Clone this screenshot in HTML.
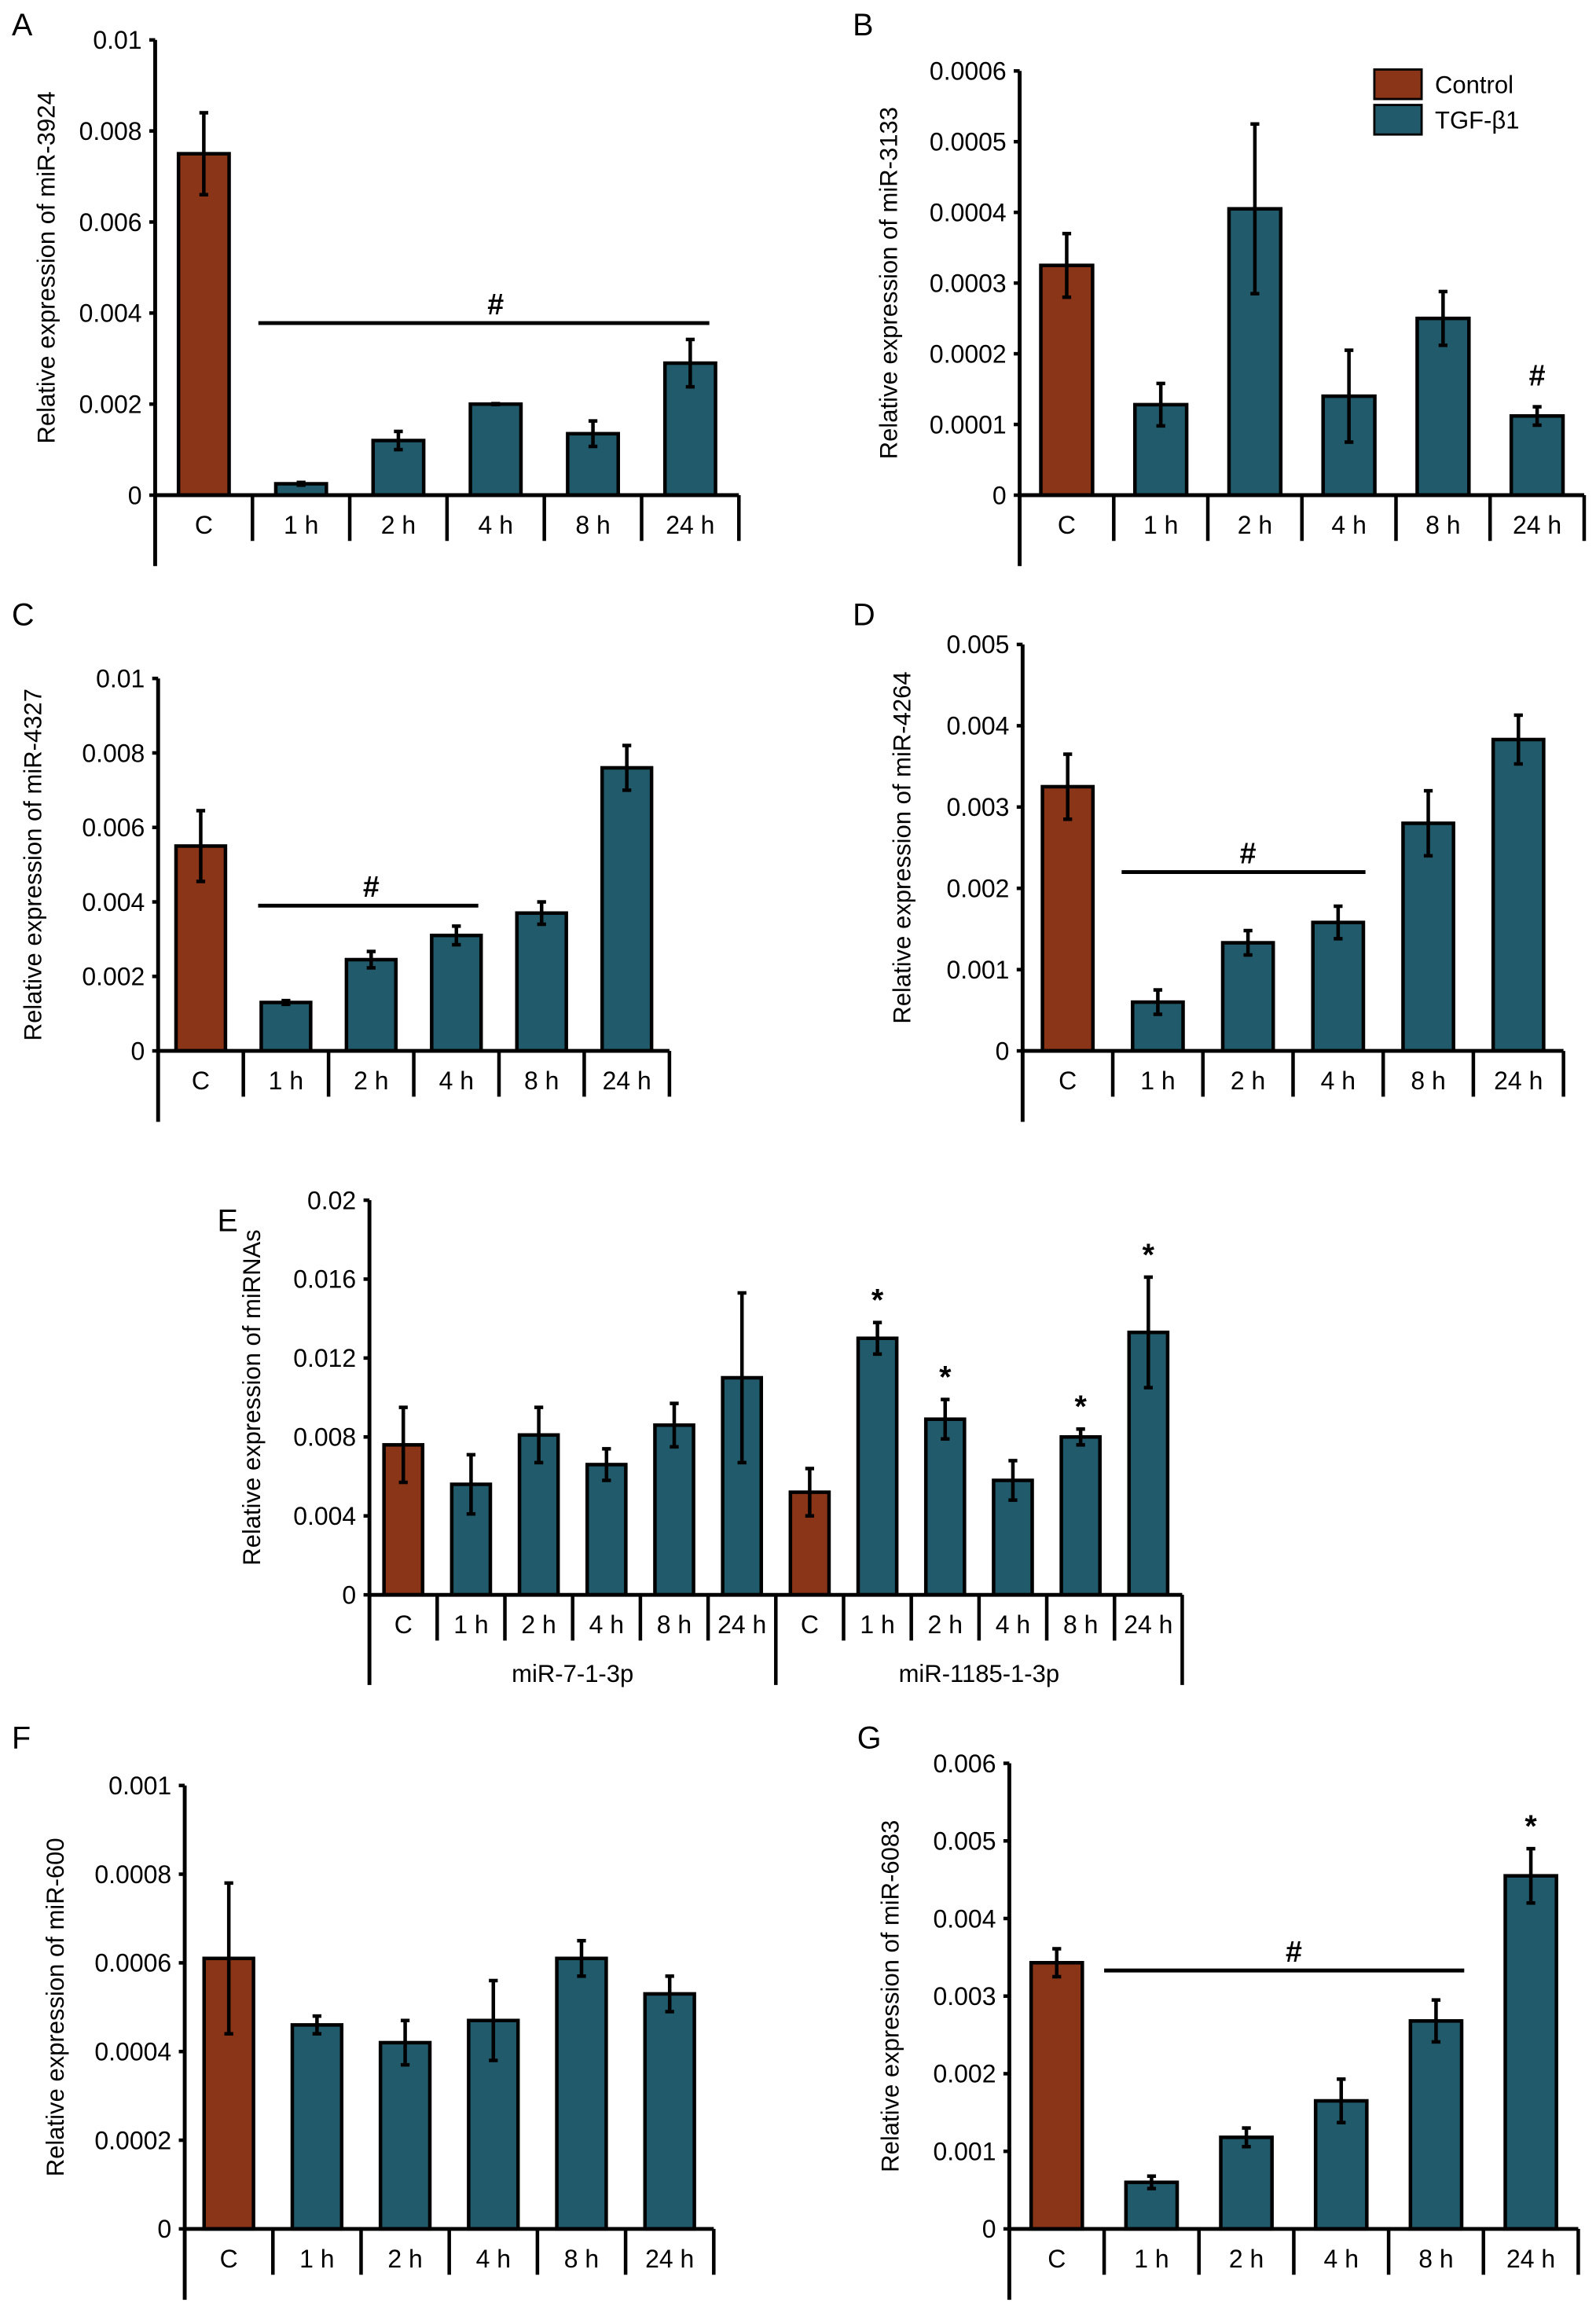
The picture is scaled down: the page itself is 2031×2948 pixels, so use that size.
<!DOCTYPE html>
<html><head><meta charset="utf-8">
<style>
html,body{margin:0;padding:0;background:#fff;}
svg{display:block;font-family:"Liberation Sans",sans-serif;}
</style></head>
<body>
<svg id="fig" width="2031" height="2948" viewBox="0 0 1080 1567.6" xmlns="http://www.w3.org/2000/svg"></svg>
<script>
const cats6 = ["C","1 h","2 h","4 h","8 h","24 h"];
// Panel A
const aVals = [0.0075,0.00025,0.0012,0.002,0.00135,0.0029];
const aErr  = [0.0009,0.00003,0.0002,0.00001,0.00028,0.00052];
const aTicks = [0,0.002,0.004,0.006,0.008,0.01];
const aTickLabels = ["0","0.002","0.004","0.006","0.008","0.01"];
// Panel B
const bVals = [0.000325,0.000128,0.000405,0.00014,0.00025,0.000112];
const bErr  = [0.000045,0.00003,0.00012,0.000065,0.000038,0.000013];
const bTicks = [0,0.0001,0.0002,0.0003,0.0004,0.0005,0.0006];
const bTickLabels = ["0","0.0001","0.0002","0.0003","0.0004","0.0005","0.0006"];
// Panel C
const cVals = [0.0055,0.0013,0.00245,0.0031,0.0037,0.0076];
const cErr  = [0.00095,0.00005,0.00022,0.00025,0.0003,0.0006];
const cTicks = [0,0.002,0.004,0.006,0.008,0.01];
const cTickLabels = ["0","0.002","0.004","0.006","0.008","0.01"];
// Panel D
const dVals = [0.00325,0.0006,0.00133,0.00158,0.0028,0.00383];
const dErr  = [0.0004,0.00015,0.00015,0.0002,0.0004,0.0003];
const dTicks = [0,0.001,0.002,0.003,0.004,0.005];
const dTickLabels = ["0","0.001","0.002","0.003","0.004","0.005"];
// Panel E
const eCats = ["C","1 h","2 h","4 h","8 h","24 h","C","1 h","2 h","4 h","8 h","24 h"];
const eVals = [0.0076,0.0056,0.0081,0.0066,0.0086,0.011,0.0052,0.013,0.0089,0.0058,0.008,0.0133];
const eErr  = [0.0019,0.0015,0.0014,0.0008,0.0011,0.0043,0.0012,0.0008,0.001,0.001,0.0004,0.0028];
const eStars = [0,0,0,0,0,0,0,1,1,0,1,1];
const eGroups = ["miR-7-1-3p","miR-1185-1-3p"];
const eTicks = [0,0.004,0.008,0.012,0.016,0.02];
const eTickLabels = ["0","0.004","0.008","0.012","0.016","0.02"];
// Panel F
const fVals = [0.00061,0.00046,0.00042,0.00047,0.00061,0.00053];
const fErr  = [0.00017,0.00002,0.00005,0.00009,0.00004,0.00004];
const fTicks = [0,0.0002,0.0004,0.0006,0.0008,0.001];
const fTickLabels = ["0","0.0002","0.0004","0.0006","0.0008","0.001"];
// Panel G
const gVals = [0.00343,0.0006,0.00118,0.00165,0.00268,0.00455];
const gErr  = [0.00018,0.00008,0.00012,0.00028,0.00027,0.00035];
const gStars = [0,0,0,0,0,1];
const gTicks = [0,0.001,0.002,0.003,0.004,0.005,0.006];
const gTickLabels = ["0","0.001","0.002","0.003","0.004","0.005","0.006"];

const NS="http://www.w3.org/2000/svg";
const svg=document.getElementById('fig');
const BROWN="#8a3518", TEAL="#215a6a";
function mk(tag,attrs,parent,text){
  const e=document.createElementNS(NS,tag);
  for(const k in attrs) e.setAttribute(k,attrs[k]);
  if(text!==undefined) e.textContent=text;
  (parent||svg).appendChild(e);
  return e;
}
function panel(o){
  const g=mk('g',{});
  
  
  const lt=mk('text',{x:o.letter[0],y:o.letter[1],'font-size':21},g,o.id.toUpperCase());
  
  
  const ymax=o.ticks[o.ticks.length-1];
  const yS=v=>o.y0-(v/ymax)*(o.y0-o.yTop);
  const n=o.cats.length, band=(o.x1-o.x0)/n;
  const xC=i=>o.x0+band*(i+0.5);
  o.ticks.forEach((t,i)=>{
    const y=yS(t);
    const tl=mk('text',{x:o.x0-9,y:y+6,'font-size':17,'text-anchor':'end'},g,o.tickLabels[i]);
    
    
    mk('line',{x1:o.x0-4,x2:o.x0,y1:y,y2:y,stroke:'#000','stroke-width':2.4},g);
  });
  const yt=mk('text',{x:0,y:0,'font-size':16.5,'text-anchor':'middle',transform:`translate(${o.titleX},${(o.yTop+o.y0)/2}) rotate(-90)`},g,o.title);
  
  
  o.vals.forEach((v,i)=>{
    const cx=xC(i), w=band*o.bw, y=yS(v);
    const ctrl=(o.cats[i]==="C");
    const r=mk('rect',{x:cx-w/2,y:y,width:w,height:o.y0-y,fill:ctrl?BROWN:TEAL,stroke:'#000','stroke-width':2.4},g);
    
    
    const e=o.err[i];
    mk('line',{x1:cx,x2:cx,y1:yS(v+e),y2:yS(Math.max(v-e,0)),stroke:'#000','stroke-width':2.4},g);
    mk('line',{x1:cx-3,x2:cx+3,y1:yS(v+e),y2:yS(v+e),stroke:'#000','stroke-width':2.4},g);
    mk('line',{x1:cx-3,x2:cx+3,y1:yS(v-e),y2:yS(v-e),stroke:'#000','stroke-width':2.4},g);
    if(o.stars && o.stars[i]){
      const s=mk('text',{x:cx,y:yS(v+e)-8,'font-size':21,'font-weight':'bold','text-anchor':'middle'},g,'*');
      
      
    }
    const cl=mk('text',{x:xC(i),y:o.y0+26,'font-size':17,'text-anchor':'middle'},g,o.cats[i]);
    
    
  });
  mk('line',{x1:o.x0,x2:o.x0,y1:o.yTop,y2:o.y0+(o.group?61:48),stroke:'#000','stroke-width':2.6},g);
  mk('line',{x1:o.x0,x2:o.x1,y1:o.y0,y2:o.y0,stroke:'#000','stroke-width':2.6},g);
  for(let i=1;i<=n;i++){
    const x=o.x0+band*i;
    const long=o.group && (i===n/2 || i===n);
    mk('line',{x1:x,x2:x,y1:o.y0,y2:o.y0+(long?61:31),stroke:'#000','stroke-width':2.4},g);
  }
  if(o.group){
    o.group.forEach((gn,k)=>{
      const gx=o.x0+(o.x1-o.x0)*(k+0.5)/o.group.length;
      const t=mk('text',{x:gx,y:o.y0+59,'font-size':16.5,'text-anchor':'middle'},g,gn);
      
      
    });
  }
  if(o.hash){
    const [i0,i1,lv]=o.hash;
    const y=yS(lv);
    mk('line',{x1:o.x0+band*i0+o.hashPad[0],x2:o.x0+band*i1-o.hashPad[1],y1:y,y2:y,stroke:'#000','stroke-width':2.6},g);
    const h=mk('text',{x:(o.x0+band*i0+o.x0+band*i1)/2,y:y-6,'font-size':20,'font-weight':'bold','text-anchor':'middle'},g,'#');
    
    
  }
  if(o.hashAt){
    const [i,lv]=o.hashAt;
    const h=mk('text',{x:xC(i),y:yS(lv),'font-size':20,'font-weight':'bold','text-anchor':'middle'},g,'#');
    
    
  }
  return g;
}
panel({id:'a',letter:[8,24],x0:105,x1:500,y0:335,yTop:27,cats:cats6,vals:aVals,err:aErr,ticks:aTicks,tickLabels:aTickLabels,title:'Relative expression of miR-3924',titleX:37,bw:0.52,hash:[1,6,0.00378],hashPad:[4,20]});
panel({id:'b',letter:[577,24],x0:690,x1:1072,y0:335,yTop:48,cats:cats6,vals:bVals,err:bErr,ticks:bTicks,tickLabels:bTickLabels,title:'Relative expression of miR-3133',titleX:607,bw:0.55,hashAt:[5,0.000155]});
panel({id:'c',letter:[8,423],x0:107,x1:453,y0:711,yTop:459,cats:cats6,vals:cVals,err:cErr,ticks:cTicks,tickLabels:cTickLabels,title:'Relative expression of miR-4327',titleX:28,bw:0.58,hash:[1,4,0.0039],hashPad:[10,14]});
panel({id:'d',letter:[577,423],x0:692,x1:1058,y0:711,yTop:436,cats:cats6,vals:dVals,err:dErr,ticks:dTicks,tickLabels:dTickLabels,title:'Relative expression of miR-4264',titleX:616,bw:0.56,hash:[1,4,0.0022],hashPad:[6,12]});
panel({id:'e',letter:[147,833],x0:250,x1:800,y0:1079,yTop:812,cats:eCats,vals:eVals,err:eErr,stars:eStars,ticks:eTicks,tickLabels:eTickLabels,title:'Relative expression of miRNAs',titleX:176,bw:0.57,group:eGroups});
panel({id:'f',letter:[8,1183],x0:125,x1:483,y0:1508,yTop:1208,cats:cats6,vals:fVals,err:fErr,ticks:fTicks,tickLabels:fTickLabels,title:'Relative expression of miR-600',titleX:43,bw:0.56});
panel({id:'g',letter:[580,1183],x0:683,x1:1068,y0:1508,yTop:1193,cats:cats6,vals:gVals,err:gErr,stars:gStars,ticks:gTicks,tickLabels:gTickLabels,title:'Relative expression of miR-6083',titleX:608,bw:0.54,hash:[1,5,0.00333],hashPad:[0,13]});
const lg=mk('g',{});


const l1=mk('rect',{x:930,y:47,width:32,height:20,fill:BROWN,stroke:'#000','stroke-width':1.5},lg);


const t1=mk('text',{x:971,y:63,'font-size':16.5},lg,'Control');


const l2=mk('rect',{x:930,y:71,width:32,height:20,fill:TEAL,stroke:'#000','stroke-width':1.5},lg);


const t2=mk('text',{x:971,y:87,'font-size':16.5},lg,'TGF-β1');


</script>
</body></html>
